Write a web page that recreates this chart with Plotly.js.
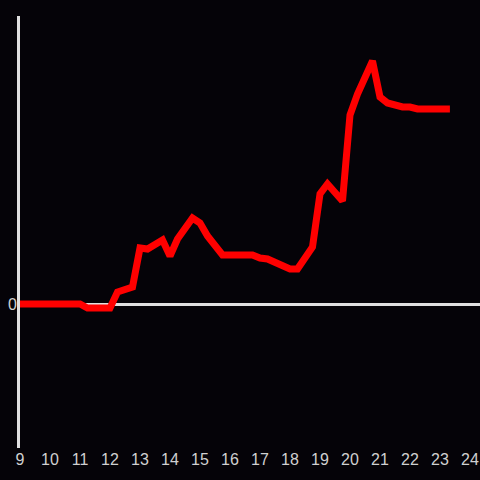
<!DOCTYPE html>
<html>
<head>
<meta charset="utf-8">
<script src="https://cdn.plot.ly/plotly-3.0.1.min.js"></script>
<style>html,body{margin:0;padding:0;background:#050308;}#chart{width:480px;height:480px;}</style>
</head>
<body>
<div id="chart"></div>
<script>
const hours = [9, 11, 11.25, 12, 12.25, 12.75, 13, 13.25, 13.75, 14, 14.25, 14.75, 15, 15.25, 15.75, 16.75, 17, 17.25, 18, 18.25, 18.75, 19, 19.25, 19.75, 20, 20.25, 20.75, 21, 21.25, 21.75, 22, 22.25, 23.33];
const values = [0, 0, -4, -4, 12, 17, 56, 55, 64, 48, 65, 86, 81, 68, 49, 49, 46, 45, 35, 35, 57, 110, 120, 103, 189, 210, 243, 207, 201, 197, 197, 195, 195];
const xTicks = [9, 10, 11, 12, 13, 14, 15, 16, 17, 18, 19, 20, 21, 22, 23, 24];

Plotly.newPlot('chart', [{
  x: hours, y: values, type: 'scatter', mode: 'lines',
  line: {color: '#ff0000', width: 7}, hoverinfo: 'skip'
}], {
  width: 480, height: 480,
  paper_bgcolor: '#050308', plot_bgcolor: '#050308',
  margin: {l: 20, r: 0, t: 16, b: 32},
  showlegend: false,
  font: {family: 'Liberation Sans, Arial, sans-serif', size: 16, color: '#d0d0d0'},
  xaxis: {
    range: [9, 24.3333], tickvals: xTicks, ticktext: xTicks.map(String),
    showgrid: false, zeroline: false, showline: false, ticks: '',
    tickfont: {size: 16, color: '#d0d0d0'}
  },
  yaxis: {
    range: [-144, 288], tickvals: [0], ticktext: ['0'],
    showgrid: false, zeroline: true, zerolinecolor: '#e0e0e0', zerolinewidth: 3,
    showline: true, linecolor: '#e0e0e0', linewidth: 3, ticks: '',
    ticklabelstandoff: -3,
    tickfont: {size: 16, color: '#d0d0d0'}
  }
}, {staticPlot: true});
</script>
</body>
</html>
